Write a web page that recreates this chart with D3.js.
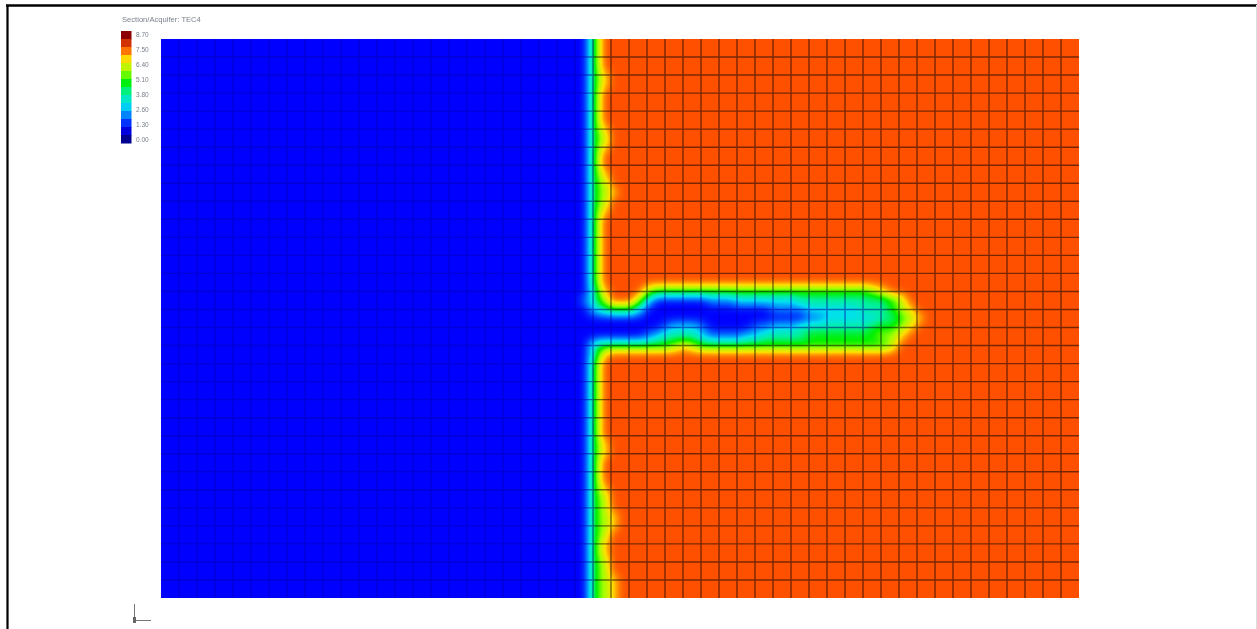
<!DOCTYPE html>
<html>
<head>
<meta charset="utf-8">
<script src="https://cdn.jsdelivr.net/npm/d3@7"></script>
<style>
    html, body { margin: 0; padding: 0; background: #fff; overflow: hidden; }
    #stage { position: relative; width: 1257px; height: 629px; }
    #field { position: absolute; left: 161px; top: 39px; filter: blur(0.6px); }
    svg { position: absolute; left: 0; top: 0; }
    text { font-family: "Liberation Sans", sans-serif; fill: #7a808c; }
</style>
</head>
<body>
<div id="stage"><canvas id="field"></canvas><svg id="chart" width="1257" height="629"></svg></div>
<script>
const chartTitle = 'Section/Acquifer: TEC4';
const legendLabels = ['8.70', '7.50', '6.40', '5.10', '3.80', '2.60', '1.30', '0.00'];

// Colour ramp of the contour fill, low to high
const colorValues = [0, 0.95, 1.9, 2.85, 3.8, 4.75, 5.7, 6.65, 7.6, 8.7];
const colorStops = ['#000090', '#0000ff', '#0078ff', '#00e0f0', '#00f0a0', '#00f000', '#a0ff00', '#ffe000', '#ff5000', '#8c0000'];

// Mesh size
const meshCols = 51;
const meshRows = 31;

// A row stops early when the rest of it stays at its last digit.
const levelUnit = 0.95;
const fieldRows = [
    '115888', '115888', '115888', '115888', '115788', '115788', '115888', '115888', '115888', '115888',
    '115788', '115688', '115788', '115888', '115888', '115788', '115688', '115678', '115688', '115788',
    '115888', '115888', '115888', '115888', '115888', '115888', '115888', '115888',
    '114788886555555555555555555555555678',
    '12468886311111122233333334444444444568',
    '113455531111111111111122223333334445678',
    '1111111111111111111111111122333333445678',
    '111111111123332111112233344444444555678',
    '11111111234444322223344444555555556678',
    '1145555555567655555555555555555555568',
    '114788',
    '115888', '115888', '115888', '115888', '115888', '115888', '115888', '115888', '115888', '115788',
    '115788', '115888', '115888', '115888', '115788', '115688', '115688', '115678', '115678', '115688',
    '115788', '115788', '115688', '115688', '115678', '115678', '115678'
];

const sampleStep = 9; // px between samples, same in both directions
const sampleLeft = 576;
const plot = { left: 161, top: 39, right: 1079, bottom: 598 };
const width = plot.right - plot.left;
const height = plot.bottom - plot.top;

const color = d3.scaleLinear().domain(colorValues).range(colorStops).clamp(true);
const colX = d3.scaleLinear().domain([0, meshCols]).range([plot.left, plot.right]);
const rowY = d3.scaleLinear().domain([0, meshRows]).range([plot.top, plot.bottom]);

function sampleAt(row, k) {
    const r = fieldRows[row];
    return +r[Math.max(0, Math.min(r.length - 1, k))] * levelUnit;
}

function drawField() {
    const canvas = document.getElementById('field');
    canvas.width = width;
    canvas.height = height;
    const ctx = canvas.getContext('2d');
    const values = new Float32Array(width * height);

    for (let py = 0; py < height; py++) {
        const fy = Math.min(py / sampleStep, fieldRows.length - 1.001);
        const r0 = Math.floor(fy), ty = fy - r0;
        for (let px = 0; px < width; px++) {
            const fx = (px + plot.left - sampleLeft) / sampleStep;
            const k0 = Math.floor(fx), tx = fx - k0;
            const top = sampleAt(r0, k0) * (1 - tx) + sampleAt(r0, k0 + 1) * tx;
            const bot = sampleAt(r0 + 1, k0) * (1 - tx) + sampleAt(r0 + 1, k0 + 1) * tx;
            values[py * width + px] = top * (1 - ty) + bot * ty;
        }
    }

    // Smooth the sample grid so the contours come out round
    d3.blur2({ data: values, width, height }, 3.6);

    const img = ctx.createImageData(width, height);
    for (let i = 0; i < values.length; i++) {
        const c = d3.rgb(color(values[i]));
        img.data[i * 4] = c.r;
        img.data[i * 4 + 1] = c.g;
        img.data[i * 4 + 2] = c.b;
        img.data[i * 4 + 3] = 255;
    }
    ctx.putImageData(img, 0, 0);
}

function drawChart() {
    const svg = d3.select('#chart');
    const defs = svg.append('defs');
    defs.append('filter').attr('id', 'soft').append('feGaussianBlur').attr('stdDeviation', 0.7);
    defs.append('filter').attr('id', 'softer').append('feGaussianBlur').attr('stdDeviation', 0.55);

    // Frame of the page
    const frame = svg.append('g').attr('stroke', '#000');
    frame.append('line').attr('x1', 6).attr('x2', 1257).attr('y1', 5.5).attr('y2', 5.5).attr('stroke-width', 2.4);
    frame.append('line').attr('x1', 7.5).attr('x2', 7.5).attr('y1', 5).attr('y2', 629).attr('stroke-width', 2.2);
    frame.append('line').attr('x1', 1256.5).attr('x2', 1256.5).attr('y1', 5).attr('y2', 629).attr('stroke', '#ddd');

    // Inner mesh lines, multiplied so they stay faint over the blue
    const mesh = svg.append('g')
        .attr('stroke', '#7878d7')
        .attr('stroke-width', 1.4)
        .attr('filter', 'url(#softer)')
        .style('mix-blend-mode', 'multiply');

    mesh.selectAll('.col').data(d3.range(1, meshCols)).enter().append('line')
        .attr('x1', d => colX(d)).attr('x2', d => colX(d))
        .attr('y1', plot.top).attr('y2', plot.bottom);

    mesh.selectAll('.row').data(d3.range(1, meshRows)).enter().append('line')
        .attr('x1', plot.left).attr('x2', plot.right)
        .attr('y1', d => rowY(d)).attr('y2', d => rowY(d));

    // Title
    svg.append('text')
        .attr('x', 122).attr('y', 21.5)
        .attr('font-size', 7.6)
        .attr('filter', 'url(#soft)')
        .text(chartTitle);

    // Legend bar, 14 bands
    const bandCount = 14;
    const legendY = d3.scaleBand().domain(d3.range(bandCount)).range([31, 143]);
    const maxValue = +legendLabels[0];
    const legend = svg.append('g').attr('filter', 'url(#soft)');

    legend.selectAll('rect').data(d3.range(bandCount)).enter().append('rect')
        .attr('x', 121)
        .attr('y', d => legendY(d))
        .attr('width', 10.5)
        .attr('height', legendY.bandwidth() + 0.5)
        .attr('fill', d => color(maxValue * (1 - d / (bandCount - 1))));

    const labelY = d3.scalePoint().domain(legendLabels).range([35, 140]);
    legend.selectAll('text').data(legendLabels).enter().append('text')
        .attr('x', 136)
        .attr('y', d => labelY(d) + 2)
        .attr('font-size', 6.5)
        .text(d => d);

    // Axis triad in the corner
    const triad = svg.append('g').attr('filter', 'url(#soft)').attr('stroke', '#777');
    triad.append('line').attr('x1', 134.5).attr('x2', 134.5).attr('y1', 604).attr('y2', 621);
    triad.append('line').attr('x1', 134).attr('x2', 151).attr('y1', 620.5).attr('y2', 620.5);
    triad.append('rect').attr('x', 133).attr('y', 617).attr('width', 3).attr('height', 6).attr('fill', '#666').attr('stroke', 'none');
}

drawField();
drawChart();
</script>
</body>
</html>
